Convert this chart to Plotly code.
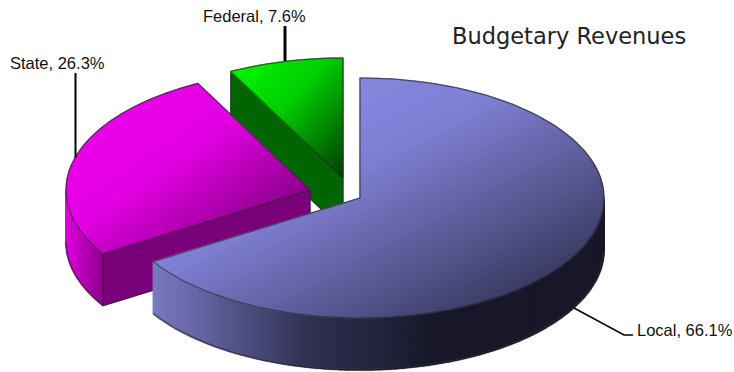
import math
import plotly.graph_objects as go

# Budget shares, in the order they run clockwise from twelve o'clock
categories = ["Local", "State", "Federal"]
shares = [66.1, 26.3, 7.6]

# Disc projection and the exploded position of each slice's centre
RX, RY, DEPTH = 244, 120, 52
centres = {"Local": (360, 198), "State": (310, 190), "Federal": (343, 178)}

TOP_STOPS = {
    "Local": [(0, (146, 146, 240)), (0.42, (126, 126, 212)), (0.7, (84, 84, 140)), (1, (34, 34, 58))],
    "State": [(0, (240, 0, 240)), (0.45, (226, 0, 226)), (1, (96, 0, 96))],
    "Federal": [(0, (0, 255, 0)), (0.45, (0, 205, 0)), (1, (0, 60, 0))],
}
SIDE_STOPS = {
    "Local": [(0, (122, 122, 196)), (0.35, (48, 48, 82)), (0.62, (24, 24, 42)), (1, (24, 24, 42))],
    "State": [(0, (225, 0, 225)), (1, (140, 0, 140))],
}
CUT_COLOURS = {"State": (122, 0, 122), "Federal": (0, 100, 0)}


def mix(stops, t):
    t = min(max(t, 0), 1)
    for (a, ca), (b, cb) in zip(stops, stops[1:]):
        if t <= b:
            f = (t - a) / (b - a)
            return tuple(round(p + (q - p) * f) for p, q in zip(ca, cb))
    return stops[-1][1]


def rgb(c):
    return f"rgb({c[0]},{c[1]},{c[2]})"


def rim(cx, cy, deg):
    a = math.radians(deg)
    return cx + RX * math.sin(a), cy - RY * math.cos(a)


def arc(cx, cy, a0, a1, step=1.5):
    n = max(2, int(abs(a1 - a0) / step) + 1)
    return [rim(cx, cy, a0 + (a1 - a0) * i / (n - 1)) for i in range(n)]


def clip(poly, f, level, keep_above):
    # One half-plane pass of Sutherland-Hodgman on the linear function f
    out = []
    for i, p in enumerate(poly):
        q = poly[(i + 1) % len(poly)]
        vp, vq = f(p) - level, f(q) - level
        if not keep_above:
            vp, vq = -vp, -vq
        if vp >= 0:
            out.append(p)
        if (vp >= 0) != (vq >= 0):
            s = vp / (vp - vq)
            out.append((p[0] + (q[0] - p[0]) * s, p[1] + (q[1] - p[1]) * s))
    return out


fig = go.Figure()


def add_path(pts, closed=False, color="#000", width=1.0, fill=None):
    if closed:
        pts = pts + pts[:1]
    fig.add_trace(go.Scatter(
        x=[p[0] for p in pts], y=[p[1] for p in pts], mode="lines",
        line=dict(color=color, width=width),
        fill="toself" if fill else "none", fillcolor=fill,
        hoverinfo="skip", showlegend=False,
    ))


def shaded(polys, stops, wx, wy, bands=64):
    # Fill convex polygons as narrow bands along one shared gradient direction
    xs = [p[0] for poly in polys for p in poly]
    ys = [p[1] for poly in polys for p in poly]
    x0, w = min(xs), max(xs) - min(xs)
    y0, h = min(ys), max(ys) - min(ys)
    f = lambda p: (p[0] - x0) / w * wx + (p[1] - y0) / h * wy
    for i in range(bands):
        t0, t1 = i / bands, (i + 1) / bands
        c = rgb(mix(stops, (t0 + t1) / 2))
        for poly in polys:
            piece = clip(clip(poly, f, t0, True), f, t1, False)
            if len(piece) > 2:
                add_path(piece, closed=True, color=c, width=1.2, fill=c)


def outline(pts, closed=False, soft=1.6, hard=0.6):
    add_path(pts, closed, color="rgba(70,70,70,0.35)", width=soft)
    add_path(pts, closed, color="rgba(15,15,15,0.75)", width=hard)


# Angular spans from the shares
spans = {}
start = 0.0
for name, share in zip(categories, shares):
    spans[name] = (start, start + share * 3.6)
    start += share * 3.6

# Painted back to front
for name in ["Federal", "State", "Local"]:
    cx, cy = centres[name]
    a0, a1 = spans[name]

    # Visible outer wall: the part of the rim on the near half of the disc
    lo, hi = max(a0, 90), min(a1, 270)
    if name in SIDE_STOPS and lo < hi:
        upper = arc(cx, cy, lo, hi, step=0.5)
        # One quad per rim step keeps every clipped band simple
        quads = [[p, q, (q[0], q[1] + DEPTH), (p[0], p[1] + DEPTH)] for p, q in zip(upper, upper[1:])]
        shaded(quads, SIDE_STOPS[name], 1, 0, bands=140 if name == "Local" else 30)
        outline([(x, y + DEPTH) for x, y in upper], soft=2.6)

    # Visible cut wall along the slice's first radius
    if name in CUT_COLOURS:
        ex, ey = rim(cx, cy, a0)
        cut = [(cx, cy), (ex, ey), (ex, ey + DEPTH), (cx, cy + DEPTH)]
        colour = rgb(CUT_COLOURS[name])
        add_path(cut, closed=True, color=colour, width=1, fill=colour)
        outline(cut, closed=True)

    # Top face, split into convex sectors below 120 degrees each
    parts = math.ceil((a1 - a0) / 120)
    sectors = [
        [(cx, cy)] + arc(cx, cy, a0 + (a1 - a0) * k / parts, a0 + (a1 - a0) * (k + 1) / parts)
        for k in range(parts)
    ]
    shaded(sectors, TOP_STOPS[name], 0.5, 0.5)
    outline([(cx, cy)] + arc(cx, cy, a0, a1), closed=True)

# Leader lines from the labels to their slices
LEADERS = [
    ([285, 285], [26, 61], 3),
    ([75.5, 75.5], [73, 158], 2),
    ([574, 624, 633], [308, 335, 335], 1.5),
]
for lx, ly, lw in LEADERS:
    fig.add_trace(go.Scatter(x=lx, y=ly, mode="lines", line=dict(color="#000", width=lw),
                             hoverinfo="skip", showlegend=False))

label_anchor = {"Local": (635, 330), "State": (8, 63), "Federal": (201, 16)}
annotations = [
    dict(x=label_anchor[n][0], y=label_anchor[n][1], text=f"{n}, {s}%", showarrow=False,
         xanchor="left", yanchor="middle", xref="x", yref="y",
         font=dict(family="Liberation Sans", size=16.5, color="#111"))
    for n, s in zip(categories, shares)
]
annotations.append(dict(x=449.5, y=36, text="Budgetary Revenues", showarrow=False,
                        xanchor="left", yanchor="middle", xref="x", yref="y",
                        font=dict(family="DejaVu Sans", size=22.5, color="#222")))

fig.update_layout(
    width=734, height=372, autosize=False,
    margin=dict(l=0, r=0, t=0, b=0),
    paper_bgcolor="#fff", plot_bgcolor="#fff",
    showlegend=False, annotations=annotations,
    xaxis=dict(range=[0, 734], visible=False, fixedrange=True),
    yaxis=dict(range=[372, 0], visible=False, fixedrange=True),
)
fig.write_html("out.html", config=dict(displayModeBar=False))
